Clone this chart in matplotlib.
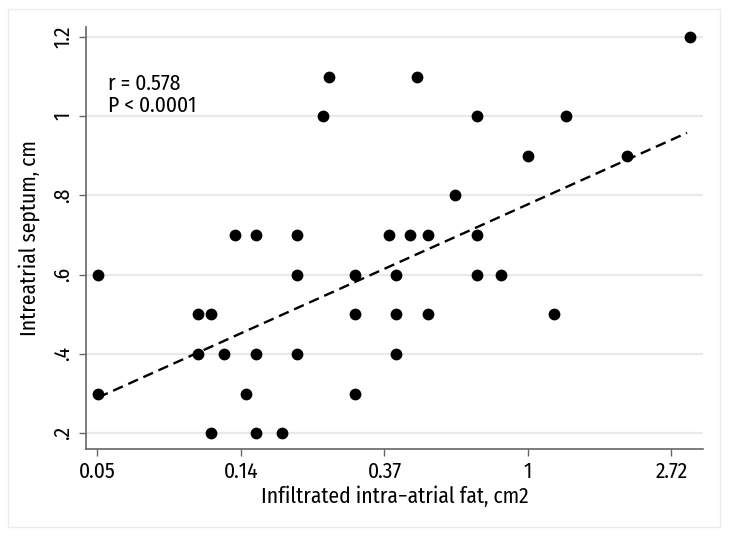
import matplotlib.pyplot as plt
import matplotlib.patches as mpatches
import numpy as np

# fat area (cm2) and septum thickness (cm)
fat = [3.1,
       0.25, 0.46,
       0.24, 0.70, 1.3,
       1.0, 2.0,
       0.60,
       0.13, 0.15, 0.20, 0.38, 0.44, 0.50, 0.70,
       0.05, 0.20, 0.30, 0.40, 0.70, 0.83,
       0.10, 0.11, 0.30, 0.40, 0.50, 1.2,
       0.10, 0.12, 0.15, 0.20, 0.40,
       0.05, 0.14, 0.30,
       0.11, 0.15, 0.18]
septum = [1.2,
          1.1, 1.1,
          1.0, 1.0, 1.0,
          0.9, 0.9,
          0.8,
          0.7, 0.7, 0.7, 0.7, 0.7, 0.7, 0.7,
          0.6, 0.6, 0.6, 0.6, 0.6, 0.6,
          0.5, 0.5, 0.5, 0.5, 0.5, 0.5,
          0.4, 0.4, 0.4, 0.4, 0.4,
          0.3, 0.3, 0.3,
          0.2, 0.2, 0.2]

# fitted line as drawn in the picture (ends)
fit_fat = [0.05, 3.03]
fit_septum = [0.29, 0.958]

x_ticks = [-3, -2, -1, 0, 1]
x_labels = ["0.05", "0.14", "0.37", "1", "2.72"]
y_ticks = [0.2, 0.4, 0.6, 0.8, 1.0, 1.2]
y_labels = [".2", ".4", ".6", ".8", "1", "1.2"]

plt.rcParams['font.family'] = ['Fira Sans Condensed', 'DejaVu Sans']
FS = 15.5

fig = plt.figure(figsize=(7.29, 5.36), dpi=100)
fig.patches.append(mpatches.Rectangle((8 / 729, 9 / 536), 712 / 729, 518 / 536,
                                      transform=fig.transFigure, fill=False,
                                      edgecolor='#ececec', linewidth=1.0))
ax = fig.add_axes([86 / 729, 1 - 449 / 536, 617 / 729, 422 / 536])

for t in y_ticks:
    ax.axhline(t, color='#e9e9e9', lw=1.6, zorder=0)

ax.scatter(np.log(fat), septum, s=72, color='black', zorder=3, linewidths=0)
ax.plot(np.log(fit_fat), fit_septum, color='black', lw=1.7,
        ls=(0, (4.5, 2.5)), zorder=4)

ax.set_xlim(-3.08, 1.22)
ax.set_ylim(0.16, 1.225)
ax.set_xticks(x_ticks)
ax.set_xticklabels(x_labels)
ax.set_yticks(y_ticks)
ax.set_yticklabels(y_labels, rotation=90, va='center')

for s in ['top', 'right']:
    ax.spines[s].set_visible(False)
for s in ['left', 'bottom']:
    ax.spines[s].set_color('#666666')
    ax.spines[s].set_linewidth(1.2)
ax.tick_params(length=5, width=1.0, color='#666666', labelsize=FS, pad=4)

ax.set_xlabel("Infiltrated intra\u2212atrial fat, cm2", fontsize=FS, labelpad=2)
ax.set_ylabel("Intreatrial septum, cm", fontsize=FS, labelpad=9)

ax.text(0.036, 0.89, "r = 0.578\nP < 0.0001", transform=ax.transAxes,
        fontsize=FS, va='top', ha='left', linespacing=1.0)

fig.savefig("out.png", dpi=100, facecolor='white')
